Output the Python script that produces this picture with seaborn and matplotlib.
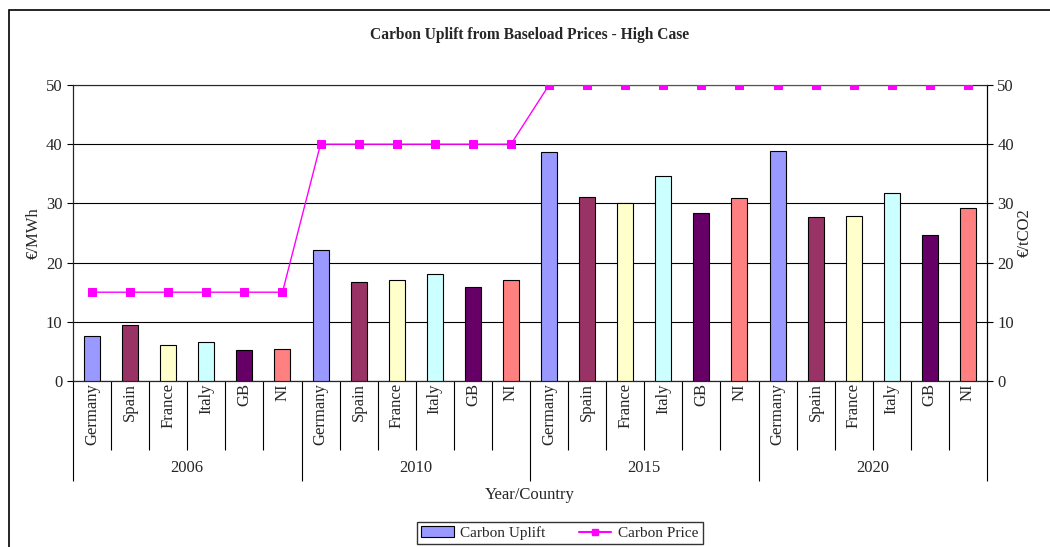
import numpy as np
import pandas as pd
import seaborn as sns
import matplotlib.pyplot as plt
from matplotlib.patches import Patch, Rectangle
from matplotlib.lines import Line2D
import matplotlib.transforms as mtransforms

sns.set_style("white")
plt.rcParams['font.family'] = ['Liberation Serif', 'DejaVu Serif']

years = ["2006", "2010", "2015", "2020"]
countries = ["Germany", "Spain", "France", "Italy", "GB", "NI"]
colors = ["#9999FF", "#993366", "#FFFFCC", "#CCFFFF", "#660066", "#FF8080"]

uplift_2006 = [7.6, 9.5, 6.1, 6.6, 5.2, 5.4]
uplift_2010 = [22.1, 16.7, 17.1, 18.1, 15.8, 17.1]
uplift_2015 = [38.6, 31.1, 30.0, 34.6, 28.3, 30.9]
uplift_2020 = [38.8, 27.7, 27.9, 31.7, 24.7, 29.2]
price_2006 = [15, 15, 15, 15, 15, 15]
price_2010 = [40, 40, 40, 40, 40, 40]
price_2015 = [50, 50, 50, 50, 50, 50]
price_2020 = [50, 50, 50, 50, 50, 50]

uplift = uplift_2006 + uplift_2010 + uplift_2015 + uplift_2020
price = price_2006 + price_2010 + price_2015 + price_2020

rows = []
for i, y in enumerate(years):
    for j, c in enumerate(countries):
        rows.append({"slot": f"{y} {c}", "Year": y, "Country": c,
                     "Uplift": uplift[i * 6 + j], "Price": price[i * 6 + j]})
df = pd.DataFrame(rows)

fs = 12

fig = plt.figure(figsize=(10.5, 5.47), dpi=100)
ax = fig.add_axes([73 / 1050, 1 - 381 / 547, (987 - 73) / 1050, (381 - 85) / 547])

sns.barplot(data=df, x="slot", y="Uplift", hue="Country", hue_order=countries,
            palette=colors, saturation=1, dodge=False, width=0.42, edgecolor="black",
            linewidth=0.8, legend=False, ax=ax, zorder=3)
n = len(df)
ax.set_xlim(-0.5, n - 0.5)
ax.set_ylim(0, 50)
ax.set_yticks(range(0, 51, 10))
ax.yaxis.grid(True, color="black", linewidth=0.8, zorder=0)
ax.set_axisbelow(True)
ax.tick_params(axis="y", labelsize=fs, length=4, direction="out", left=True, color="black")
ax.set_ylabel("€/MWh", fontsize=fs, labelpad=3)
ax.set_xlabel("")

# x axis: tick marks at category boundaries, longer ones at year boundaries
ax.set_xticks(np.arange(-0.5, n, 6))
ax.set_xticks(np.arange(-0.5, n, 1), minor=True)
ax.set_xticklabels([])
ax.tick_params(axis="x", which="major", length=72, width=0.8, color="black", bottom=True)
ax.tick_params(axis="x", which="minor", length=50, width=0.8, color="black", bottom=True)

trans = mtransforms.blended_transform_factory(ax.transData, ax.transAxes)
for k, row in df.iterrows():
    ax.text(k, -0.008, row["Country"], rotation=90, ha="center", va="top",
            fontsize=fs, transform=trans)
for i, y in enumerate(years):
    ax.text(i * 6 + 2.5, -0.295, y, ha="center", va="center", fontsize=fs, transform=trans)
ax.text(0.5, -0.385, "Year/Country", ha="center", va="center", fontsize=fs,
        transform=ax.transAxes)

for s in ["left", "bottom", "right"]:
    ax.spines[s].set_color("black")
    ax.spines[s].set_linewidth(0.8)
ax.spines["top"].set_color("#808080")

ax2 = ax.twinx()
sns.lineplot(x=np.arange(n), y=df["Price"].values, ax=ax2, color="#FF00FF",
             marker="s", markersize=6, markeredgecolor="#FF00FF", linewidth=1.0, zorder=4)
ax2.set_ylim(0, 50)
ax2.set_yticks(range(0, 51, 10))
ax2.tick_params(axis="y", labelsize=fs, length=4, direction="out", right=True, color="black")
ax2.set_ylabel("€/tCO2", fontsize=fs, labelpad=2)
ax2.spines["right"].set_color("black")

ax.set_title("Carbon Uplift from Baseload Prices - High Case", fontsize=11.2,
             fontweight="bold", pad=33)

handles = [Patch(facecolor=colors[0], edgecolor="black", linewidth=0.8, label="Carbon Uplift"),
           Line2D([0], [0], color="#FF00FF", marker="s", markersize=5, label="Carbon Price")]
fig.legend(handles=handles, loc="center", bbox_to_anchor=(560 / 1050, 1 - 533 / 547),
           ncol=2, frameon=True, fancybox=False, edgecolor="black", fontsize=11,
           handlelength=2.1, handletextpad=0.45, columnspacing=2.2, borderpad=0.3)

fig.patches.append(Rectangle((9 / 1050, -0.1), 1.2, 1 - 10 / 547 + 0.1,
                             transform=fig.transFigure, fill=False,
                             edgecolor="black", linewidth=1.2))

fig.savefig("out.png", dpi=100)
